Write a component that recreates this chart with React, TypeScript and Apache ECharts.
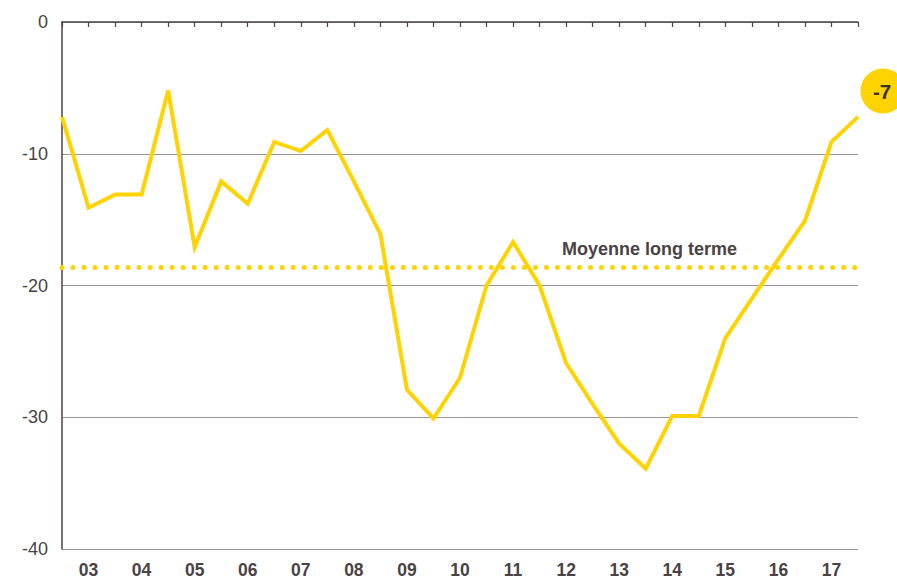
import React, { useEffect, useRef } from "react";
import * as echarts from "echarts";

const yearLabels = ["03", "04", "05", "06", "07", "08", "09", "10", "11", "12", "13", "14", "15", "16", "17"];
// half-year positions: even index = year boundary, odd index = mid-year (labelled)
const categories: string[] = [];
for (let i = 0; i <= yearLabels.length * 2; i++) {
  categories.push(i % 2 === 1 ? yearLabels[(i - 1) / 2] : "");
}
const values = [
  -7.2, -14.1, -13.1, -13.1, -5.2, -17.1, -12.1, -13.8, -9.1, -9.8, -8.2,
  -12.1, -16.1, -27.9, -30.1, -27.0, -20.0, -16.7, -20.0, -25.9, -29.0,
  -32.0, -33.9, -29.9, -29.9, -24.0, -21.0, -18.0, -15.1, -9.1, -7.2,
];
const longTermAverage = -18.65;
const averageLabel = "Moyenne long terme";
const lastValueLabel = "-7";

const YELLOW = "#FFD300";
const TEXT = "#4a4244";
const FONT = "'Liberation Sans', Arial, Helvetica, sans-serif";

export default function App() {
  const ref = useRef<HTMLDivElement>(null);
  useEffect(() => {
    if (!ref.current) return;
    const chart = echarts.init(ref.current, null, { renderer: "svg" });
    chart.setOption({
      animation: false,
      grid: { left: 62, right: 39, top: 22, bottom: 28, containLabel: false },
      xAxis: {
        type: "category",
        data: categories,
        boundaryGap: false,
        axisLine: { lineStyle: { color: "#4d4244", width: 1.5 } },
        axisTick: { show: true, interval: 0, length: 5, lineStyle: { color: "#4d4244", width: 1.2 } },
        axisLabel: {
          interval: (idx: number) => idx % 2 === 1,
          color: TEXT,
          fontFamily: FONT,
          fontWeight: "bold",
          fontSize: 17.5,
          margin: 12,
        },
        splitLine: { show: false },
      },
      yAxis: {
        type: "value",
        min: -40,
        max: 0,
        interval: 10,
        axisLine: { show: true, lineStyle: { color: "#4d4244", width: 1.5 } },
        axisTick: { show: false },
        axisLabel: { color: TEXT, fontFamily: FONT, fontSize: 18, margin: 14 },
        splitLine: { lineStyle: { color: "#9e9497", width: 1 } },
      },
      series: [
        {
          type: "line",
          data: values,
          symbol: "none",
          lineStyle: { color: YELLOW, width: 4, join: "miter" },
          z: 3,
          markLine: {
            silent: true,
            symbol: "none",
            label: { show: false },
            lineStyle: { color: YELLOW, width: 5, type: [0.01, 11], cap: "round" },
            data: [{ yAxis: longTermAverage }],
          },
        },
      ],
      graphic: [
        {
          type: "text",
          left: 562,
          top: 240,
          style: { text: averageLabel, fill: TEXT, font: `bold 18px ${FONT}` },
          z: 10,
        },
        {
          type: "circle",
          shape: { cx: 883, cy: 91, r: 22.5 },
          style: { fill: YELLOW },
          z: 10,
        },
        {
          type: "text",
          x: 882,
          y: 91,
          style: {
            text: lastValueLabel,
            fill: "#3a3133",
            font: `bold 20.5px ${FONT}`,
            align: "center",
            verticalAlign: "middle",
          },
          z: 11,
        },
      ],
    });
    return () => chart.dispose();
  }, []);
  return (
    <div
      ref={ref}
      style={{ position: "fixed", left: 0, top: 0, width: 897, height: 579, background: "#fff" }}
    />
  );
}
